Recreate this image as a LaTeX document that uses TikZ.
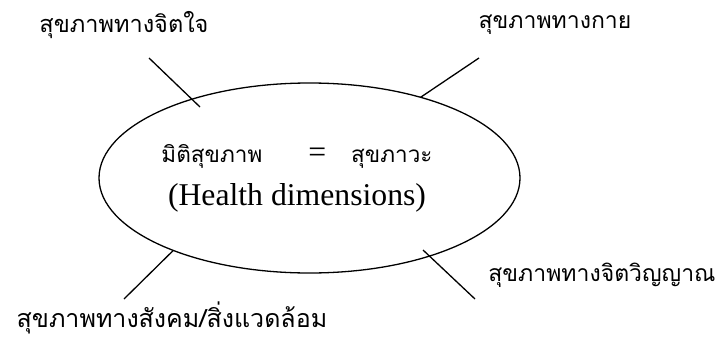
\documentclass[tikz,border=0pt]{standalone}
\usepackage{fontspec}
\usepackage{tikz}
\usetikzlibrary{shapes.geometric}
\setmainfont{Liberation Serif}
\newfontfamily\thaifont[Script=Thai]{Loma}

\begin{document}
\begin{tikzpicture}[x=1pt,y=-1pt,
  lbl/.style={font=\thaifont\fontsize{23}{26}\selectfont, inner sep=0pt},
  spoke/.style={line width=1.3pt}]
  \useasboundingbox (0,0) rectangle (725,340);
  % central oval with its title
  \node[draw, ellipse, line width=1.3pt, minimum width=421pt, minimum height=190pt,
        inner sep=0pt, outer sep=0pt] (dim) at (309.5,178) {};
  \node[align=center, inner sep=0pt, font=\fontsize{31.7}{43}\selectfont] (title) at (297,178)
    {{\thaifont\fontsize{22.5}{43}\selectfont มิติสุขภาพ}\hspace{1.45em}=\hspace{0.79em}{\thaifont\fontsize{22.5}{43}\selectfont สุขภาวะ}\\
     (Health dimensions)};
  % the four dimensions
  \node[lbl, font=\thaifont\fontsize{23.5}{26}\selectfont] (mind) at (124,25) {สุขภาพทางจิตใจ};
  \node[lbl] (body) at (555,25) {สุขภาพทางกาย};
  \node[lbl, font=\thaifont\fontsize{25}{28}\selectfont] (social) at (172,318) {สุขภาพทางสังคม/สิ่งแวดล้อม};
  \node[lbl] (spirit) at (602,275) {สุขภาพทางจิตวิญญาณ};
  % spokes
  \coordinate (mindOut) at (149,58);
  \coordinate (mindIn) at (200,107);
  \coordinate (bodyOut) at (479,58);
  \coordinate (socialOut) at (124,299);
  \coordinate (spiritIn) at (423,250);
  \coordinate (spiritOut) at (475,299);
  \draw[spoke] (mindOut) -- (mindIn);
  \draw[spoke] (bodyOut) -- (dim.36);
  \draw[spoke] (socialOut) -- (dim.208);
  \draw[spoke] (spiritIn) -- (spiritOut);
\end{tikzpicture}
\end{document}
